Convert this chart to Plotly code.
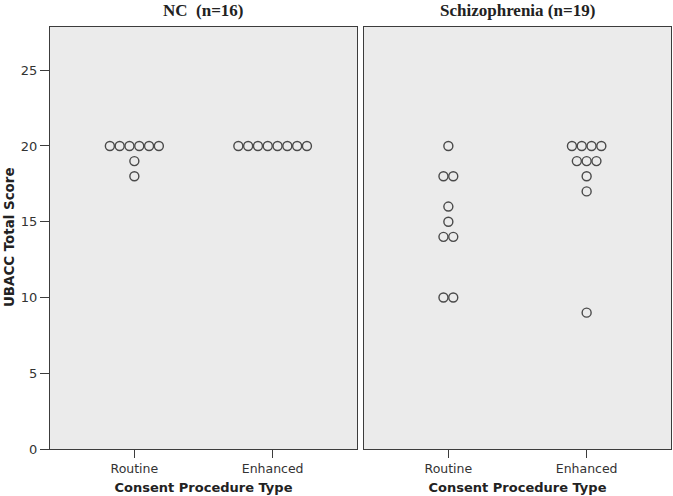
import plotly.graph_objects as go
from collections import Counter

# ---- data ----
groups = ["NC  (n=16)", "Schizophrenia (n=19)"]
categories = ["Routine", "Enhanced"]
nc_routine = [20, 20, 20, 20, 20, 20, 19, 18]
nc_enhanced = [20, 20, 20, 20, 20, 20, 20, 20]
sz_routine = [20, 18, 18, 16, 15, 14, 14, 10, 10]
sz_enhanced = [20, 20, 20, 20, 19, 19, 19, 18, 17, 9]
y_ticks = [0, 5, 10, 15, 20, 25]

panel_values = [[nc_routine, nc_enhanced], [sz_routine, sz_enhanced]]

W, H = 673, 496
ML, MR, MT, MB = 50, 2, 27, 47
plot_w = W - ML - MR
gap = 7
panel_px = (plot_w - gap) / 2
x_range = [-0.61, 1.61]
y_range = [0, 27.85]
step = 9.8 * (x_range[1] - x_range[0]) / panel_px  # dot spacing in axis units

fig = go.Figure()
for p, (gname, series) in enumerate(zip(groups, panel_values)):
    xs, ys = [], []
    for ci, vals in enumerate(series):
        cnt = Counter(vals)
        for v, k in cnt.items():
            for i in range(k):
                xs.append(ci + (i - (k - 1) / 2) * step)
                ys.append(v)
    fig.add_trace(go.Scatter(
        x=xs, y=ys, mode="markers",
        marker=dict(symbol="circle-open", size=9, color="#4a4a4a", line=dict(width=1.4, color="#4a4a4a")),
        xaxis="x" if p == 0 else "x2", yaxis="y" if p == 0 else "y2",
        showlegend=False, hoverinfo="x+y"))

d0 = [0, panel_px / plot_w]
d1 = [1 - panel_px / plot_w, 1]

axis_common = dict(showline=True, mirror=True, linecolor="#3c3c3c", linewidth=1,
                   showgrid=False, zeroline=False)
xcommon = dict(axis_common, range=x_range, tickvals=[0, 1], ticktext=categories,
               ticks="outside", ticklen=8, tickcolor="#3c3c3c",
               tickfont=dict(family="DejaVu Sans", size=12.5, color="#333333"),
               title=dict(text="<b>Consent Procedure Type</b>",
                          font=dict(family="DejaVu Sans", size=13, color="#222222"), standoff=7))
fig.update_layout(
    width=W, height=H,
    margin=dict(l=ML, r=MR, t=MT, b=MB, autoexpand=False),
    paper_bgcolor="white", plot_bgcolor="#EBEBEB",
    xaxis=dict(xcommon, domain=d0, anchor="y"),
    xaxis2=dict(xcommon, domain=d1, anchor="y2"),
    yaxis=dict(axis_common, range=y_range, domain=[0, 1], anchor="x",
               tickvals=y_ticks, ticks="outside", ticklen=9, tickcolor="#3c3c3c",
               tickfont=dict(family="DejaVu Sans", size=13, color="#333333")),
    yaxis2=dict(axis_common, range=y_range, domain=[0, 1], anchor="x2",
                showticklabels=False, ticks=""),
)

fig.update_layout(shapes=[
    dict(type="rect", xref="x domain", yref="y domain", x0=0, x1=1, y0=0, y1=1,
         fillcolor="#EBEBEB", line=dict(width=0), layer="below"),
    dict(type="rect", xref="x2 domain", yref="y2 domain", x0=0, x1=1, y0=0, y1=1,
         fillcolor="#EBEBEB", line=dict(width=0), layer="below"),
])

ann = []
for p, gname in enumerate(groups):
    dom = d0 if p == 0 else d1
    ann.append(dict(text="<b>" + gname + "</b>", xref="paper", yref="paper",
                    x=(dom[0] + dom[1]) / 2, y=1, yshift=17, showarrow=False,
                    xanchor="center", yanchor="middle",
                    font=dict(family="Liberation Serif", size=17, color="#222222")))
ann.append(dict(text="<b>UBACC Total Score</b>", xref="paper", yref="paper",
                x=0, xshift=-41, y=0.5, textangle=-90,
                showarrow=False, xanchor="center", yanchor="middle",
                font=dict(family="DejaVu Sans", size=13.4, color="#222222")))
fig.update_layout(annotations=ann)

fig.write_html("out.html", config={"displayModeBar": False},
               post_script="document.body.style.margin='0';document.body.style.padding='0';")
